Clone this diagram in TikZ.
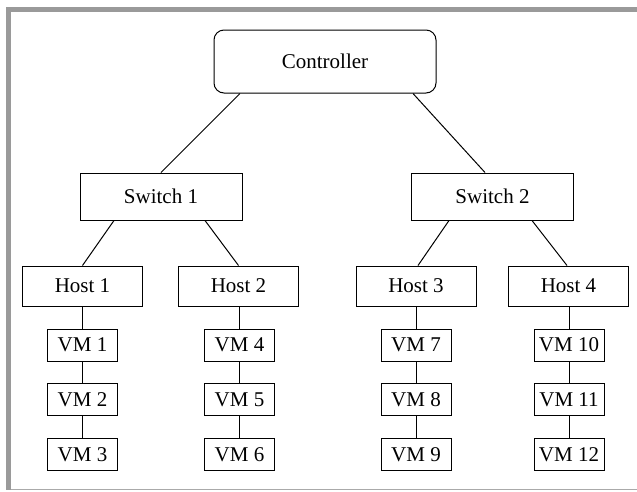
\documentclass[tikz,border=0pt]{standalone}
\usepackage{fontspec}
\setmainfont{Liberation Serif}
\usetikzlibrary{calc}
\definecolor{framegray}{HTML}{9A9A9A}
\definecolor{edgegray}{HTML}{AAAAAA}
\tikzset{
  box/.style={draw=black, line width=1pt, fill=white, inner sep=0pt,
    font=\fontsize{21}{24}\selectfont},
  ctrlbox/.style={box, rounded corners=10pt, minimum width=222pt, minimum height=63pt},
  switchbox/.style={box, minimum width=162pt, minimum height=47pt},
  hostbox/.style={box, minimum width=120pt, minimum height=40pt},
  vmbox/.style={box, minimum width=70pt, minimum height=32pt},
  link/.style={draw=black, line width=1pt}
}
\begin{document}
\begin{tikzpicture}[x=1pt, y=-1pt]
  \useasboundingbox (0,0) rectangle (637,491);
  % frame
  \fill[framegray] (6,7) rectangle (637,12);
  \fill[framegray] (6,7) rectangle (11,490);
  \fill[edgegray] (11,489) rectangle (637,490);

  % nodes
  \node[ctrlbox] (ctrl) at (325,61.5) {Controller};
  \node[switchbox] (s1) at (161,196.5) {Switch 1};
  \node[switchbox] (s2) at (492.5,196.5) {Switch 2};

  \node[hostbox] (h1) at (82.5,286) {Host 1};
  \node[hostbox] (h2) at (238.5,286) {Host 2};
  \node[hostbox] (h3) at (416,286) {Host 3};
  \node[hostbox] (h4) at (568.5,286) {Host 4};

  \node[vmbox] (v1) at (82.5,345) {VM 1};
  \node[vmbox] (v2) at (82.5,399.5) {VM 2};
  \node[vmbox] (v3) at (82.5,454.5) {VM 3};
  \node[vmbox] (v4) at (239.5,345) {VM 4};
  \node[vmbox] (v5) at (239.5,399.5) {VM 5};
  \node[vmbox] (v6) at (239.5,454.5) {VM 6};
  \node[vmbox] (v7) at (416,345) {VM 7};
  \node[vmbox] (v8) at (416,399.5) {VM 8};
  \node[vmbox] (v9) at (416,454.5) {VM 9};
  \node[vmbox] (v10) at (569,345) {VM 10};
  \node[vmbox] (v11) at (569,399.5) {VM 11};
  \node[vmbox] (v12) at (569,454.5) {VM 12};

  % connectors
  \draw[link] ([xshift=-85pt]ctrl.south) -- (s1.north);
  \draw[link] ([xshift=88pt]ctrl.south) -- ([xshift=-7.5pt]s2.north);
  \draw[link] ([xshift=-47pt]s1.south) -- (h1.north);
  \draw[link] ([xshift=44pt]s1.south) -- (h2.north);
  \draw[link] ([xshift=-43.5pt]s2.south) -- ([xshift=2pt]h3.north);
  \draw[link] ([xshift=39.5pt]s2.south) -- ([xshift=-1.5pt]h4.north);

  \draw[link] (h1) -- (v1);
  \draw[link] (v1) -- (v2);
  \draw[link] (v2) -- (v3);
  \draw[link] (h2.south -| v4.north) -- (v4);
  \draw[link] (v4) -- (v5);
  \draw[link] (v5) -- (v6);
  \draw[link] (h3) -- (v7);
  \draw[link] (v7) -- (v8);
  \draw[link] (v8) -- (v9);
  \draw[link] (h4.south -| v10.north) -- (v10);
  \draw[link] (v10) -- (v11);
  \draw[link] (v11) -- (v12);
\end{tikzpicture}
\end{document}
